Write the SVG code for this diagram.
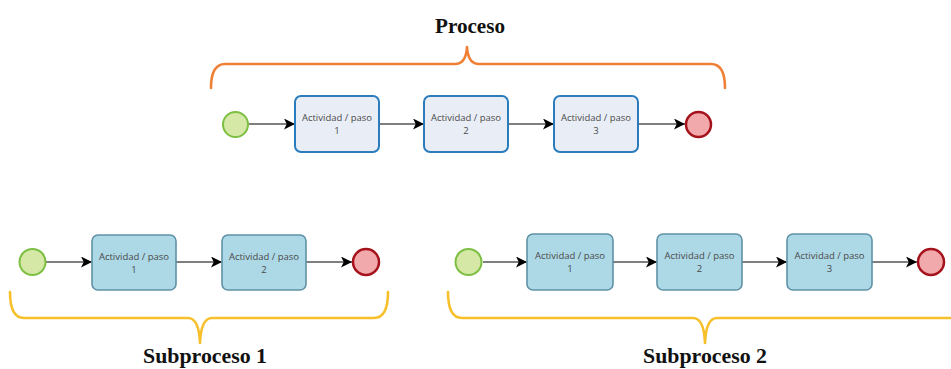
<svg xmlns="http://www.w3.org/2000/svg" width="951" height="369" viewBox="0 0 951 369">
  <defs>
    <marker id="arrow" viewBox="0 0 10 10" refX="10" refY="5" markerWidth="11" markerHeight="11" markerUnits="userSpaceOnUse" orient="auto">
      <path d="M0,0 L10,5 L0,10 L2.5,5 Z" fill="#000"/>
    </marker>
    <style>
      .bg { fill: #ffffff; }
      .task-main { fill: #e9eef6; stroke: #2a7cbc; stroke-width: 2; }
      .task-sub { fill: #add8e6; stroke: #5f92a6; stroke-width: 1.6; }
      .start { fill: #d5e8a6; stroke: #7dbf42; stroke-width: 2; }
      .end { fill: #f1a9ac; stroke: #a5121b; stroke-width: 2.5; }
      .flow { fill: none; stroke: #555555; stroke-width: 1.3; marker-end: url(#arrow); }
      .label { font-family: "Open Sans", "DejaVu Sans", sans-serif; font-size: 9.5px; fill: #4a4a4a; text-anchor: middle; }
      .title { font-family: "Liberation Serif", "Times New Roman", serif; font-weight: bold; font-size: 21px; fill: #111111; text-anchor: middle; }
      .brace-orange { fill: none; stroke: #ef8035; stroke-width: 2.6; stroke-linecap: round; stroke-linejoin: round; }
      .brace-yellow { fill: none; stroke: #f7bf2a; stroke-width: 2.6; stroke-linecap: round; stroke-linejoin: round; }
    </style>
  </defs>

  <rect class="bg" x="0" y="0" width="951" height="369"/>

  <!-- Braces and titles -->
  <g id="proceso-label">
    <path class="brace-orange" d="M211,88 Q211,64 225,64 L455,64 Q466,64 467,47 Q468,64 479,64 L711,64 Q725,64 725,88"/>
    <text class="title" x="470" y="33" textLength="70" lengthAdjust="spacingAndGlyphs">Proceso</text>
  </g>
  <g id="subproceso1-label">
    <path class="brace-yellow" d="M10,292 Q10,318 24,318 L188,318 Q199,318 200,343 Q201,318 212,318 L374,318 Q388,318 388,292"/>
    <text class="title" x="205" y="363" textLength="124" lengthAdjust="spacingAndGlyphs">Subproceso 1</text>
  </g>
  <g id="subproceso2-label">
    <path class="brace-yellow" d="M448,292 Q448,318 462,318 L693,318 Q704,318 705,343 Q706,318 717,318 L951,318"/>
    <text class="title" x="705" y="363" textLength="124" lengthAdjust="spacingAndGlyphs">Subproceso 2</text>
  </g>

  <!-- Connectors -->
  <g id="connectors">
    <line class="flow" x1="248" y1="124" x2="295" y2="124"/>
    <line class="flow" x1="379" y1="124" x2="424" y2="124"/>
    <line class="flow" x1="508" y1="124" x2="554" y2="124"/>
    <line class="flow" x1="638" y1="124" x2="685" y2="124"/>

    <line class="flow" x1="46" y1="262" x2="92" y2="262"/>
    <line class="flow" x1="176" y1="262" x2="222" y2="262"/>
    <line class="flow" x1="306" y1="262" x2="352" y2="262"/>

    <line class="flow" x1="483" y1="262" x2="527" y2="262"/>
    <line class="flow" x1="613" y1="262" x2="657" y2="262"/>
    <line class="flow" x1="742" y1="262" x2="787" y2="262"/>
    <line class="flow" x1="872" y1="262" x2="917" y2="262"/>
  </g>

  <!-- Main process -->
  <g id="p-start"><circle class="start" cx="235.5" cy="124.5" r="12.5"/></g>
  <g id="p-task1">
    <rect class="task-main" x="295" y="96" width="84" height="56" rx="6"/>
    <text class="label" x="337" y="121">Actividad / paso</text>
    <text class="label" x="337" y="134">1</text>
  </g>
  <g id="p-task2">
    <rect class="task-main" x="424" y="96" width="84" height="56" rx="6"/>
    <text class="label" x="466" y="121">Actividad / paso</text>
    <text class="label" x="466" y="134">2</text>
  </g>
  <g id="p-task3">
    <rect class="task-main" x="554" y="96" width="84" height="56" rx="6"/>
    <text class="label" x="596" y="121">Actividad / paso</text>
    <text class="label" x="596" y="134">3</text>
  </g>
  <g id="p-end"><circle class="end" cx="698.5" cy="124.5" r="12.5"/></g>

  <!-- Subprocess 1 -->
  <g id="s1-start"><circle class="start" cx="32.5" cy="262" r="13"/></g>
  <g id="s1-task1">
    <rect class="task-sub" x="92" y="235" width="84" height="55" rx="6"/>
    <text class="label" x="134" y="260">Actividad / paso</text>
    <text class="label" x="134" y="273">1</text>
  </g>
  <g id="s1-task2">
    <rect class="task-sub" x="222" y="235" width="84" height="55" rx="6"/>
    <text class="label" x="264" y="260">Actividad / paso</text>
    <text class="label" x="264" y="273">2</text>
  </g>
  <g id="s1-end"><circle class="end" cx="366" cy="262" r="13"/></g>

  <!-- Subprocess 2 -->
  <g id="s2-start"><circle class="start" cx="468.5" cy="262" r="13"/></g>
  <g id="s2-task1">
    <rect class="task-sub" x="527" y="234" width="86" height="56" rx="6"/>
    <text class="label" x="570" y="259">Actividad / paso</text>
    <text class="label" x="570" y="272">1</text>
  </g>
  <g id="s2-task2">
    <rect class="task-sub" x="657" y="234" width="85" height="56" rx="6"/>
    <text class="label" x="699.5" y="259">Actividad / paso</text>
    <text class="label" x="699.5" y="272">2</text>
  </g>
  <g id="s2-task3">
    <rect class="task-sub" x="787" y="234" width="85" height="56" rx="6"/>
    <text class="label" x="829.5" y="259">Actividad / paso</text>
    <text class="label" x="829.5" y="272">3</text>
  </g>
  <g id="s2-end"><circle class="end" cx="931" cy="262" r="13"/></g>
</svg>
